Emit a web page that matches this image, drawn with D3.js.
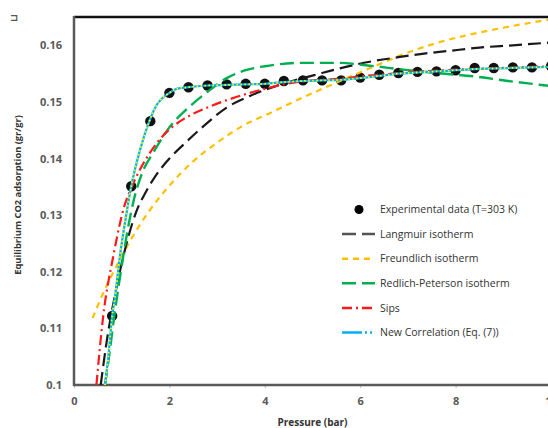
<!DOCTYPE html>
<html>
<head>
<meta charset="utf-8">
<script src="https://cdn.jsdelivr.net/npm/d3@7"></script>
<style>
  html, body { margin: 0; padding: 0; background: #fff; }
  svg { display: block; }
</style>
</head>
<body>
<svg id="chart" width="548" height="428"></svg>
<script>
// ---------------- DATA ----------------
const xTicks = [0, 2, 4, 6, 8, 10];
const yTicks = [0.1, 0.11, 0.12, 0.13, 0.14, 0.15, 0.16];
const yTickLabels = ["0.1", "0.11", "0.12", "0.13", "0.14", "0.15", "0.16"];

const expP = [0.8, 1.2, 1.6, 2.0, 2.4, 2.8, 3.2, 3.6, 4.0, 4.4, 4.8, 5.2, 5.6, 6.0, 6.4, 6.8, 7.2, 7.6, 8.0, 8.4, 8.8, 9.2, 9.6, 10.0];
const expQ = [0.1122, 0.1351, 0.1466, 0.1516, 0.1526, 0.1529, 0.1531, 0.1532, 0.1532, 0.1537, 0.1538, 0.1538, 0.1538, 0.1543, 0.1548, 0.1551, 0.1553, 0.1554, 0.1556, 0.1560, 0.1560, 0.1561, 0.1561, 0.1563];

const langmuirP = [0.56, 0.7, 0.85, 1.0, 1.15, 1.3, 1.5, 1.7, 2.0, 2.3, 2.7, 3.2, 3.7, 4.2, 4.7, 5.2, 5.7, 6.2, 6.8, 7.3, 7.85, 8.5, 9.2, 10.0];
const langmuirQ = [0.100, 0.1085, 0.1155, 0.1215, 0.1265, 0.1305, 0.1340, 0.1368, 0.1400, 0.1425, 0.1456, 0.1490, 0.1511, 0.1527, 0.1540, 0.1551, 0.1562, 0.1571, 0.1579, 0.1585, 0.1590, 0.1596, 0.1600, 0.1605];

const freundlichP = [0.39, 0.6, 0.8, 1.0, 1.3, 1.6, 2.0, 2.5, 3.0, 3.5, 4.1, 4.8, 5.58, 6.27, 6.9, 7.6, 8.3, 9.0, 10.0];
const freundlichQ = [0.1118, 0.1160, 0.1195, 0.1228, 0.1272, 0.1310, 0.1352, 0.1395, 0.1428, 0.1456, 0.1480, 0.1508, 0.1537, 0.1562, 0.1584, 0.1604, 0.1619, 0.1631, 0.1646];

const redlichP = [0.65, 0.75, 0.85, 1.0, 1.1, 1.24, 1.4, 1.68, 2.0, 2.4, 2.8, 3.2, 3.6, 4.0, 4.8, 5.5, 6.2, 6.9, 7.6, 8.5, 9.1, 9.8, 10.0];
const redlichQ = [0.100, 0.106, 0.1125, 0.1210, 0.1262, 0.1322, 0.1368, 0.1413, 0.1455, 0.1490, 0.1518, 0.1542, 0.1556, 0.1563, 0.1569, 0.1569, 0.1564, 0.1557, 0.1551, 0.1544, 0.1537, 0.1530, 0.1528];

const sipsP = [0.47, 0.61, 0.82, 1.07, 1.17, 1.38, 1.59, 1.8, 2.05, 2.43, 2.85, 3.27, 3.69, 4.0, 4.4, 5.0, 5.6, 6.0, 6.4, 7.0, 8.0, 9.0, 10.0];
const sipsQ = [0.100, 0.112, 0.1226, 0.1320, 0.1342, 0.1380, 0.1410, 0.1434, 0.1455, 0.1476, 0.1492, 0.1505, 0.1516, 0.1523, 0.1531, 0.1538, 0.1541, 0.1545, 0.1548, 0.1552, 0.1557, 0.1560, 0.1563];

const newCorrP = [0.65, 0.72, 0.8, 0.86, 0.96, 1.1, 1.2, 1.38, 1.58, 1.73, 2.0, 2.15, 2.4, 2.8, 3.2, 3.6, 4.0, 4.4, 4.8, 5.2, 5.6, 6.0, 6.4, 6.8, 7.2, 7.6, 8.0, 8.4, 8.8, 9.2, 9.6, 10.0];
const newCorrQ = [0.100, 0.105, 0.1122, 0.1155, 0.1226, 0.1303, 0.1351, 0.1414, 0.1466, 0.1494, 0.1516, 0.1523, 0.1526, 0.1529, 0.1530, 0.1531, 0.1532, 0.1535, 0.1537, 0.1538, 0.1539, 0.1542, 0.1546, 0.1550, 0.1552, 0.1554, 0.1556, 0.1558, 0.1559, 0.1560, 0.1561, 0.1562];

const legendLabels = ["Experimental data (T=303 K)", "Langmuir isotherm", "Freundlich isotherm", "Redlich-Peterson isotherm", "Sips", "New Correlation (Eq. (7))"];

// ---------------- LAYOUT ----------------
const svg = d3.select("#chart");
const L = 74, R = 551, T = 17, B = 385;
const x = d3.scaleLinear().domain([0, 10]).range([L, R]);
const y = d3.scaleLinear().domain([0.1, 0.165]).range([B, T]);

const FONT = "'Open Sans', 'DejaVu Sans', sans-serif";

svg.append("defs").append("clipPath").attr("id", "clip")
  .append("rect").attr("x", L).attr("y", T).attr("width", R - L).attr("height", B - T);

// corner glyph
svg.append("text").attr("x", 10).attr("y", 21).attr("font-family", "'DejaVu Sans', sans-serif")
  .attr("font-size", 10).attr("font-weight", "bold").attr("fill", "#555").text("\u2290");

// axes
const xAxis = svg.append("g").attr("transform", `translate(0,${B})`)
  .call(d3.axisBottom(x).tickValues(xTicks).tickSize(3).tickFormat(d3.format("d")));
xAxis.select(".domain").remove();
xAxis.selectAll("line").attr("stroke", "#bbb");
xAxis.selectAll("text").attr("font-family", FONT).attr("font-size", 11).attr("font-weight", "bold")
  .attr("fill", "#5a5a5a").attr("dy", "0.71em").attr("y", 12);

const yAxis = svg.append("g").attr("transform", `translate(${L},0)`)
  .call(d3.axisLeft(y).tickValues(yTicks).tickSize(0).tickFormat((d, i) => yTickLabels[i]));
yAxis.select(".domain").remove();
yAxis.selectAll("text").attr("font-family", FONT).attr("font-size", 11).attr("font-weight", "bold")
  .attr("fill", "#5a5a5a").attr("x", -12);

// frame lines
svg.append("line").attr("x1", L).attr("x2", 560).attr("y1", T).attr("y2", T)
  .attr("stroke", "#111").attr("stroke-width", 2.5);
svg.append("line").attr("x1", L).attr("x2", L).attr("y1", T - 1).attr("y2", B + 1)
  .attr("stroke", "#5a5a5a").attr("stroke-width", 2.5);
svg.append("line").attr("x1", L - 1).attr("x2", 560).attr("y1", B).attr("y2", B)
  .attr("stroke", "#5a5a5a").attr("stroke-width", 2.5);

// axis titles
svg.append("text").attr("x", (L + R) / 2).attr("y", 426).attr("text-anchor", "middle")
  .attr("font-family", FONT).attr("font-size", 10).attr("font-weight", "bold").attr("fill", "#333")
  .text("Pressure (bar)");
svg.append("text").attr("transform", `translate(21,${195}) rotate(-90)`).attr("text-anchor", "middle")
  .attr("font-family", FONT).attr("font-size", 9.3).attr("font-weight", "bold").attr("fill", "#333")
  .text("Equilibrium CO2 adsorption (gr/gr)");

// ---------------- SERIES ----------------
const plot = svg.append("g").attr("clip-path", "url(#clip)");
const line = d3.line().x(d => x(d[0])).y(d => y(d[1])).curve(d3.curveMonotoneX);
const zip = (a, b) => a.map((v, i) => [v, b[i]]);

// experimental markers (drawn under fits)
plot.selectAll("circle.exp").data(zip(expP, expQ)).enter().append("circle")
  .attr("class", "exp").attr("cx", d => x(d[0])).attr("cy", d => y(d[1])).attr("r", 5.2)
  .attr("fill", "#111");

const series = [
  { P: freundlichP, Q: freundlichQ, color: "#ffc000", dash: "6,5", w: 2.2 },
  { P: langmuirP, Q: langmuirQ, color: "#1a1a1a", dash: "13,6", w: 2.2 },
  { P: redlichP, Q: redlichQ, color: "#00b050", dash: "14,6", w: 2.4 },
  { P: sipsP, Q: sipsQ, color: "#ff1a1a", dash: "10,4,2,4", w: 2.2 },
  { P: newCorrP, Q: newCorrQ, color: "#00b0f0", dash: null, w: 2.2 }
];
series.forEach(s => {
  plot.append("path").datum(zip(s.P, s.Q)).attr("d", line)
    .attr("fill", "none").attr("stroke", s.color).attr("stroke-width", s.w)
    .attr("stroke-dasharray", s.dash);
});
// yellow dotted overlay on the new correlation curve
plot.append("path").datum(zip(newCorrP, newCorrQ)).attr("d", line)
  .attr("fill", "none").attr("stroke", "#ffff00").attr("stroke-width", 1.8)
  .attr("stroke-dasharray", "1.5,2.5");

// ---------------- LEGEND ----------------
const legY0 = 209.5, legDy = 24.6, lx1 = 342, lx2 = 375, tx = 380;
const legStyles = [
  null,
  { color: "#555", dash: "14,6" },
  { color: "#ffc000", dash: "6,5" },
  { color: "#00b050", dash: "14,6" },
  { color: "#ff1a1a", dash: "10,4,2,4" },
  { color: "#00b0f0", dash: "20,3,2,3,2,3" }
];
const leg = svg.append("g");
legendLabels.forEach((lab, i) => {
  const yy = legY0 + i * legDy;
  if (i === 0) {
    leg.append("circle").attr("cx", 359).attr("cy", yy).attr("r", 4.5).attr("fill", "#000");
  } else {
    const st = legStyles[i];
    leg.append("line").attr("x1", lx1).attr("x2", lx2).attr("y1", yy).attr("y2", yy)
      .attr("stroke", st.color).attr("stroke-width", 2.5).attr("stroke-dasharray", st.dash);
  }
  leg.append("text").attr("x", tx).attr("y", yy).attr("dy", "0.35em")
    .attr("font-family", FONT).attr("font-size", 10.5).attr("fill", "#333").text(lab);
});
</script>
</body>
</html>
